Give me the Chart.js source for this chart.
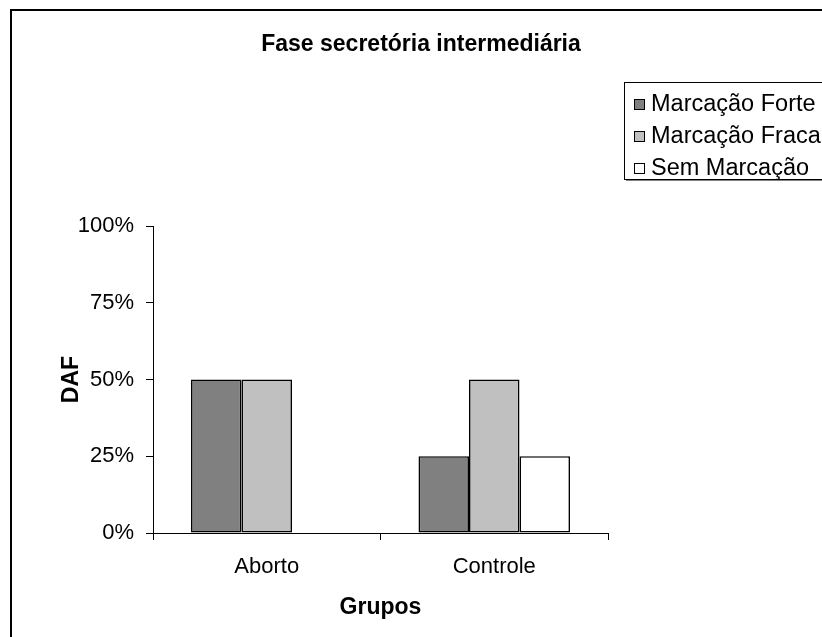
<!DOCTYPE html>
<html><head><meta charset="utf-8">
<script src="https://cdn.jsdelivr.net/npm/chart.js@4"></script>
<style>html,body{margin:0;padding:0;background:#fff;overflow:hidden}#wrap{position:relative;width:822px;height:637px}</style>
</head><body><div id="wrap"><canvas id="c" width="822" height="637"></canvas></div>
<script>
const chartTitle = 'Fase secretória intermediária';
const categories = ['Aborto', 'Controle'];
const seriesNames = ['Marcação Forte', 'Marcação Fraca', 'Sem Marcação'];
const marcacaoForte = [50, 25];
const marcacaoFraca = [50, 50];
const semMarcacao = [0, 25];
const yTickValues = [0, 25, 50, 75, 100];
const yAxisTitle = 'DAF';
const xAxisTitle = 'Grupos';
const seriesColors = ['#808080', '#C0C0C0', '#FFFFFF'];

const FONT = "'Liberation Sans', Arial, sans-serif";

const decorPlugin = {
  id: 'decor',
  beforeDraw(chart) {
    const ctx = chart.ctx;
    ctx.save();
    ctx.fillStyle = '#fff';
    ctx.fillRect(0, 0, chart.width, chart.height);
    // outer frame
    ctx.fillStyle = '#000';
    ctx.fillRect(10, 9, chart.width, 2);
    ctx.fillRect(10, 9, 2, chart.height);
    ctx.restore();
  },
  afterDraw(chart) {
    const ctx = chart.ctx;
    ctx.save();
    // title
    ctx.fillStyle = '#000';
    ctx.font = 'bold 23px ' + FONT;
    ctx.textAlign = 'center';
    ctx.textBaseline = 'middle';
    ctx.fillText(chartTitle, 421, 45);
    // legend
    const x0 = 624, y0 = 82, y1 = 179;
    ctx.fillStyle = '#808080';
    ctx.fillRect(x0 + 2, y1, chart.width, 2);
    ctx.fillStyle = '#fff';
    ctx.fillRect(x0, y0, chart.width, y1 - y0);
    ctx.strokeStyle = '#000';
    ctx.lineWidth = 1;
    ctx.strokeRect(x0 + 0.5, y0 + 0.5, chart.width, y1 - y0);
    ctx.font = '23.5px ' + FONT;
    ctx.textAlign = 'left';
    chart.data.datasets.forEach((ds, i) => {
      const cy = 104 + i * 32;
      ctx.fillStyle = ds.backgroundColor;
      ctx.fillRect(634, cy - 5, 11, 11);
      ctx.strokeStyle = '#000';
      ctx.strokeRect(634.5, cy - 4.5, 10, 10);
      ctx.fillStyle = '#000';
      ctx.fillText(ds.label, 651, cy + 1);
    });
    ctx.restore();
  }
};

const seriesData = [marcacaoForte, marcacaoFraca, semMarcacao];

new Chart(document.getElementById('c'), {
  type: 'bar',
  data: {
    labels: categories,
    datasets: seriesNames.map((name, i) => ({
      label: name,
      data: seriesData[i],
      backgroundColor: seriesColors[i],
      borderColor: '#000',
      borderWidth: 1.6,
      borderSkipped: false,
      categoryPercentage: 0.666,
      barPercentage: 1
    }))
  },
  options: {
    responsive: false,
    animation: false,
    devicePixelRatio: 1,
    layout: { padding: { top: 226, right: 214, left: 0, bottom: 0 } },
    plugins: { legend: { display: false }, title: { display: false }, tooltip: { enabled: false } },
    scales: {
      x: {
        afterFit(s) { s.height = 104; },
        grid: { display: true, drawOnChartArea: false, drawTicks: true, tickLength: 7, color: '#000', offset: true },
        border: { display: true, color: '#000', width: 1 },
        ticks: { color: '#000', font: { family: FONT, size: 22 }, padding: 14 },
        title: { display: true, text: xAxisTitle, color: '#000', font: { family: FONT, size: 23, weight: 'bold' }, padding: { top: 0, bottom: 16 } }
      },
      y: {
        min: 0, max: 100,
        afterFit(s) { s.width = 153; },
        afterBuildTicks(s) { s.ticks = yTickValues.map(v => ({ value: v })); },
        grid: { display: true, drawOnChartArea: false, drawTicks: true, tickLength: 7, color: '#000' },
        border: { display: true, color: '#000', width: 1 },
        ticks: { color: '#000', font: { family: FONT, size: 22 }, padding: 12, callback: v => v + '%' },
        title: { display: true, text: yAxisTitle, color: '#000', font: { family: FONT, size: 23, weight: 'bold' }, padding: { top: 58, bottom: 0 } }
      }
    }
  },
  plugins: [decorPlugin]
});
</script></body></html>
